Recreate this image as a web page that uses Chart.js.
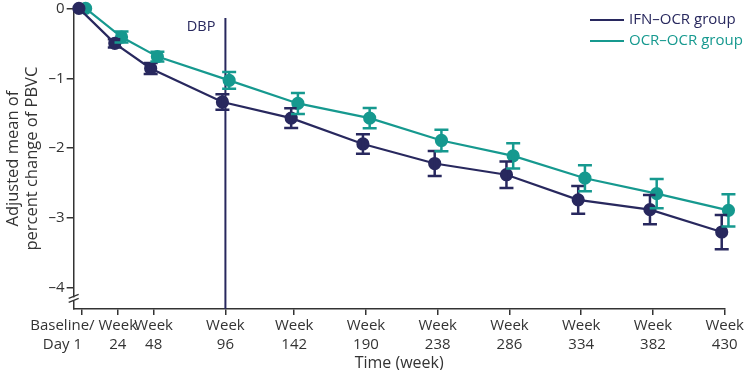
<!DOCTYPE html>
<html>
<head>
<meta charset="utf-8">
<script src="https://cdn.jsdelivr.net/npm/chart.js@4.4.1/dist/chart.umd.min.js"></script>
<style>
  html, body { margin: 0; padding: 0; background: #fff; }
  #wrap { width: 745px; height: 370px; }
</style>
</head>
<body>
<div id="wrap"><canvas id="pbvc"></canvas></div>
<script>
// weeks on the x axis
var weeks = [0, 24, 48, 96, 142, 190, 238, 286, 334, 382, 430];
var tickLabels = [
  ["Baseline/", "Day 1"], ["Week", "24"], ["Week", "48"], ["Week", "96"],
  ["Week", "142"], ["Week", "190"], ["Week", "238"], ["Week", "286"],
  ["Week", "334"], ["Week", "382"], ["Week", "430"]
];

// adjusted mean % change of PBVC, and error (half-width)
var ifnMean = [0, -0.50, -0.86, -1.34, -1.57, -1.94, -2.22, -2.38, -2.74, -2.88, -3.20];
var ifnErr  = [0, 0.06, 0.08, 0.11, 0.14, 0.14, 0.18, 0.19, 0.20, 0.21, 0.245];
var ocrMean = [0, -0.41, -0.69, -1.03, -1.36, -1.57, -1.89, -2.11, -2.43, -2.65, -2.89];
var ocrErr  = [0, 0.08, 0.07, 0.12, 0.15, 0.145, 0.155, 0.18, 0.185, 0.21, 0.23];

var dbpWeek = 96;

var navy = "#28285e";
var teal = "#16998f";
var ink = "#333333";
var font = "'Open Sans'";

function toPoints(means, errs, dodge) {
  return weeks.map(function (w, i) {
    return { x: w + dodge, y: means[i], err: errs[i] };
  });
}

var errorBars = {
  id: "errorBars",
  afterDatasetsDraw: function (chart) {
    var ctx = chart.ctx;
    var ys = chart.scales.y;
    chart.data.datasets.forEach(function (ds, di) {
      var meta = chart.getDatasetMeta(di);
      ctx.save();
      ctx.strokeStyle = ds.borderColor;
      ctx.lineWidth = 2.5;
      meta.data.forEach(function (pt, i) {
        var d = ds.data[i];
        if (!d.err) return;
        var top = ys.getPixelForValue(d.y + d.err);
        var bot = ys.getPixelForValue(d.y - d.err);
        ctx.beginPath();
        ctx.moveTo(pt.x, top); ctx.lineTo(pt.x, bot);
        ctx.moveTo(pt.x - 7, top); ctx.lineTo(pt.x + 7, top);
        ctx.moveTo(pt.x - 7, bot); ctx.lineTo(pt.x + 7, bot);
        ctx.stroke();
      });
      ctx.restore();
    });
  }
};

var extras = {
  id: "extras",
  beforeDatasetsDraw: function (chart) {
    var ctx = chart.ctx;
    var xs = chart.scales.x, ys = chart.scales.y;
    var x = xs.getPixelForValue(dbpWeek);
    ctx.save();
    ctx.strokeStyle = navy;
    ctx.lineWidth = 2;
    ctx.beginPath();
    ctx.moveTo(x, 18);
    ctx.lineTo(x, ys.bottom);
    ctx.stroke();
    ctx.fillStyle = navy;
    ctx.font = "14.5px " + font;
    ctx.textAlign = "right";
    ctx.textBaseline = "middle";
    ctx.fillText("DBP", x - 10, 27);
    ctx.restore();
  },
  afterDraw: function (chart) {
    var ctx = chart.ctx;
    var ys = chart.scales.y;
    var x0 = chart.chartArea.left;
    // axis break marks
    var yb = ys.getPixelForValue(-4.15);
    ctx.save();
    ctx.fillStyle = "#fff";
    ctx.fillRect(x0 - 2, yb - 1, 4, 3);
    ctx.strokeStyle = ink;
    ctx.lineWidth = 1.3;
    ctx.beginPath();
    ctx.moveTo(x0 - 5, yb); ctx.lineTo(x0 + 5, yb - 4);
    ctx.moveTo(x0 - 5, yb + 4); ctx.lineTo(x0 + 5, yb);
    ctx.stroke();
    // legend, top right
    ctx.font = "15px " + font;
    ctx.textAlign = "left";
    ctx.textBaseline = "middle";
    chart.data.datasets.forEach(function (ds, i) {
      var ly = 20 + i * 21;
      ctx.strokeStyle = ds.borderColor;
      ctx.lineWidth = 2.2;
      ctx.beginPath();
      ctx.moveTo(590, ly); ctx.lineTo(624, ly);
      ctx.stroke();
      ctx.fillStyle = ds.borderColor;
      ctx.fillText(ds.label, 629, ly);
    });
    ctx.restore();
  }
};

new Chart(document.getElementById("pbvc"), {
  type: "line",
  data: {
    datasets: [
      {
        label: "IFN–OCR group",
        data: toPoints(ifnMean, ifnErr, -2),
        borderColor: navy,
        backgroundColor: navy,
        borderWidth: 2.2,
        pointRadius: 5.5,
        pointHoverRadius: 5.5,
        clip: false
      },
      {
        label: "OCR–OCR group",
        data: toPoints(ocrMean, ocrErr, 2.5),
        borderColor: teal,
        backgroundColor: teal,
        borderWidth: 2.2,
        pointRadius: 5.5,
        pointHoverRadius: 5.5,
        clip: false
      }
    ]
  },
  options: {
    responsive: true,
    maintainAspectRatio: false,
    animation: false,
    layout: { padding: { top: 0, right: 20, left: 3, bottom: 0 } },
    plugins: {
      tooltip: { enabled: false },
      legend: { display: false }
    },
    scales: {
      x: {
        type: "linear",
        min: -5.5,
        max: 430,
        afterBuildTicks: function (scale) {
          scale.ticks = weeks.map(function (w) { return { value: w }; });
        },
        ticks: {
          autoSkip: false,
          maxRotation: 0,
          color: ink,
          padding: 1,
          font: { family: font, size: 15, lineHeight: 1.27 },
          callback: function (v) {
            var i = weeks.indexOf(v);
            if (i < 0) return "";
            // first label sits left of its tick in the original
            if (i === 0) return tickLabels[i].map(function (s) { return s + "          "; });
            return tickLabels[i];
          }
        },
        grid: { drawOnChartArea: false, tickLength: 6, color: ink, lineWidth: 1.5 },
        border: { color: ink, width: 1.5 },
        title: {
          display: true,
          text: "Time (week)",
          color: ink,
          padding: { top: 0, bottom: -1 },
          font: { family: font, size: 16, lineHeight: 1.0 }
        }
      },
      y: {
        min: -4.3,
        max: 0,
        afterBuildTicks: function (scale) {
          scale.ticks = [0, -1, -2, -3, -4].map(function (v) { return { value: v }; });
        },
        ticks: {
          color: ink,
          padding: 2,
          font: { family: font, size: 15, lineHeight: 0.85 },
          callback: function (v) { return v === 0 ? "0" : "–" + Math.abs(v); }
        },
        grid: { drawOnChartArea: false, tickLength: 7, color: ink, lineWidth: 1.5 },
        border: { color: ink, width: 1.5 },
        title: {
          display: true,
          text: ["Adjusted mean of", "percent change of PBVC"],
          color: ink,
          padding: { top: 0, bottom: 4 },
          font: { family: font, size: 16.5, lineHeight: 1.2 }
        }
      }
    }
  },
  plugins: [extras, errorBars]
});
</script>
</body>
</html>
